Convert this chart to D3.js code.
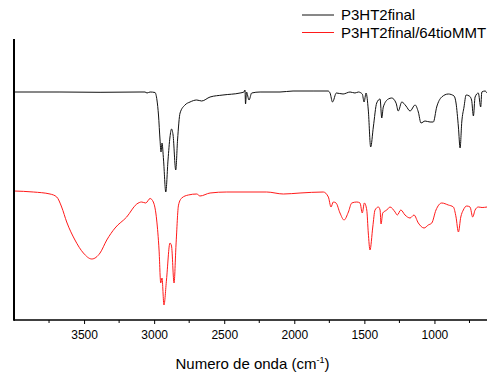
<!DOCTYPE html>
<html>
<head>
<meta charset="utf-8">
<script src="https://cdn.jsdelivr.net/npm/d3@7"></script>
<style>
  body { margin: 0; background: #fff; }
  svg { display: block; font-family: "Liberation Sans", Arial, sans-serif; }
</style>
</head>
<body>
<div id="chart"></div>
<script>
// series labels
const seriesNames = ["P3HT2final", "P3HT2final/64tioMMT"];

// P3HT2final (black), wavenumber in cm-1 and signal in a.u.
const p3htWn = [4000, 3672, 3386, 3101, 3065, 3051, 3029, 2994, 2980, 2969, 2958, 2951, 2944, 2933, 2917,
  2901, 2887, 2876, 2865, 2846, 2833, 2815, 2780, 2744, 2696, 2661, 2601, 2509, 2387, 2359, 2352, 2348,
  2341, 2323, 2304, 2244, 2102, 2009, 1866, 1759, 1745, 1727, 1700, 1652, 1602, 1567, 1543, 1515, 1502,
  1488, 1472, 1455, 1436, 1412, 1388, 1376, 1365, 1329, 1305, 1274, 1258, 1233, 1203, 1174, 1138, 1115,
  1096, 1067, 1031, 1008, 984, 948, 901, 860, 846, 829, 817, 805, 789, 774, 751, 735, 722, 710, 687, 670,
  662, 639, 625];
const p3htVal = [22.8, 22.8, 22.77, 22.8, 22.8, 22.7, 22.8, 22.75, 22.0, 20.5, 18.0, 16.8, 17.7, 16.0, 12.8,
  16.0, 18.3, 19.1, 18.5, 15.0, 18.0, 20.7, 21.5, 21.8, 22.0, 21.9, 22.3, 22.5, 22.7, 22.8, 23.0, 21.6,
  22.8, 22.0, 22.7, 22.8, 22.8, 22.9, 22.9, 22.9, 22.7, 21.8, 22.7, 22.6, 22.8, 22.7, 22.8, 22.6, 21.8,
  22.7, 21.0, 17.3, 19.3, 21.7, 22.1, 20.2, 21.3, 22.1, 22.2, 21.7, 20.9, 21.8, 21.4, 20.9, 21.5, 20.8,
  19.7, 19.9, 19.8, 19.8, 21.3, 22.3, 22.6, 22.4, 21.7, 19.3, 17.2, 19.8, 21.3, 22.5, 22.4, 22.0, 20.4,
  22.3, 22.7, 21.3, 22.8, 22.9, 22.7];

// P3HT2final/64tioMMT (red)
const compWn = [4000, 3862, 3743, 3695, 3660, 3624, 3565, 3505, 3445, 3386, 3338, 3279, 3196, 3124, 3089,
  3060, 3029, 3006, 2982, 2965, 2953, 2944, 2930, 2912, 2887, 2876, 2858, 2844, 2826, 2803, 2756, 2696,
  2673, 2601, 2482, 2316, 2197, 2078, 1959, 1793, 1757, 1738, 1722, 1702, 1674, 1645, 1614, 1590, 1554,
  1531, 1515, 1500, 1483, 1472, 1460, 1440, 1424, 1400, 1388, 1381, 1369, 1340, 1317, 1281, 1265, 1240,
  1210, 1174, 1146, 1115, 1074, 1044, 1019, 989, 948, 901, 865, 846, 829, 812, 794, 770, 746, 727, 710,
  687, 660, 625];
const compVal = [12.9, 12.8, 12.6, 12.3, 11.3, 9.8, 8.0, 6.7, 6.1, 6.7, 8.0, 9.2, 10.3, 11.6, 11.8,
  11.7, 12.15, 11.8, 10.0, 7.0, 3.7, 4.2, 1.5, 4.0, 7.7, 7.4, 3.7, 7.5, 11.5, 12.2, 12.5, 12.6,
  12.4, 12.7, 12.8, 12.8, 12.8, 12.6, 12.7, 12.8, 12.3, 11.3, 11.8, 11.7, 10.7, 10.0, 10.8, 11.7, 11.8,
  11.7, 10.7, 11.7, 11.0, 8.7, 7.0, 9.3, 11.0, 11.3, 11.0, 9.6, 10.7, 11.0, 11.3, 10.8, 10.5, 11.0,
  10.5, 10.2, 10.5, 9.7, 9.2, 9.5, 9.7, 11.0, 11.7, 11.5, 11.3, 10.3, 8.8, 10.3, 11.0, 11.4, 11.3, 10.3, 11.0,
  11.3, 11.25, 11.3];

// x axis ticks
const majorTicks = [3500, 3000, 2500, 2000, 1500, 1000];
const minorTicks = [3750, 3250, 2750, 2250, 1750, 1250, 750];

const width = 487, height = 374;
const plotLeft = 14, plotRight = 487, plotTop = 39, plotBottom = 320;

const svg = d3.select("#chart").append("svg")
  .attr("width", width)
  .attr("height", height);

const xScale = d3.scaleLinear().domain([4000, 625]).range([plotLeft, plotRight]);
const yScale = d3.scaleLinear().domain([0, 28.1]).range([plotBottom, plotTop]);

const line = d3.line()
  .x(d => xScale(d[0]))
  .y(d => yScale(d[1]))
  .curve(d3.curveMonotoneX);

const series = [
  { name: seriesNames[0], color: "#111", pts: d3.zip(p3htWn, p3htVal) },
  { name: seriesNames[1], color: "#ff1a1a", pts: d3.zip(compWn, compVal) }
];

svg.selectAll("path.spec").data(series).enter().append("path")
  .attr("class", "spec")
  .attr("fill", "none")
  .attr("stroke", d => d.color)
  .attr("stroke-width", 1)
  .attr("d", d => line(d.pts));

// bottom axis with major labelled ticks
const xAxis = d3.axisBottom(xScale)
  .tickValues(majorTicks)
  .tickSize(4)
  .tickPadding(6)
  .tickFormat(d3.format("d"));

const gx = svg.append("g")
  .attr("transform", "translate(0," + plotBottom + ")")
  .call(xAxis);
gx.select(".domain").remove();
gx.selectAll("text").style("font-size", "12px").attr("fill", "#000");

svg.append("g")
  .attr("transform", "translate(0," + plotBottom + ")")
  .selectAll("line").data(minorTicks).enter().append("line")
  .attr("x1", d => xScale(d)).attr("x2", d => xScale(d))
  .attr("y1", 0).attr("y2", 3)
  .attr("stroke", "#000");

svg.append("line")
  .attr("x1", plotLeft).attr("x2", plotRight)
  .attr("y1", plotBottom).attr("y2", plotBottom)
  .attr("stroke", "#000").attr("stroke-width", 1.5);

svg.append("line")
  .attr("x1", plotLeft).attr("x2", plotLeft)
  .attr("y1", plotTop).attr("y2", plotBottom + 0.75)
  .attr("stroke", "#000").attr("stroke-width", 2);

// axis title
const title = svg.append("text")
  .attr("x", (plotLeft + plotRight) / 2 + 2)
  .attr("y", 369)
  .attr("text-anchor", "middle")
  .style("font-size", "15px");
title.append("tspan").text("Numero de onda (cm");
title.append("tspan").attr("dy", -6).style("font-size", "9px").text("-1");
title.append("tspan").attr("dy", 6).text(")");

// legend
const legend = svg.selectAll("g.legend").data(series).enter().append("g")
  .attr("class", "legend")
  .attr("transform", (d, i) => "translate(302," + (15 + i * 17.5) + ")");
legend.append("line")
  .attr("x1", 0).attr("x2", 32)
  .attr("stroke", d => d.color)
  .attr("stroke-width", 1);
legend.append("text")
  .attr("x", 39).attr("y", 5)
  .style("font-size", "15px")
  .text(d => d.name);
</script>
</body>
</html>
